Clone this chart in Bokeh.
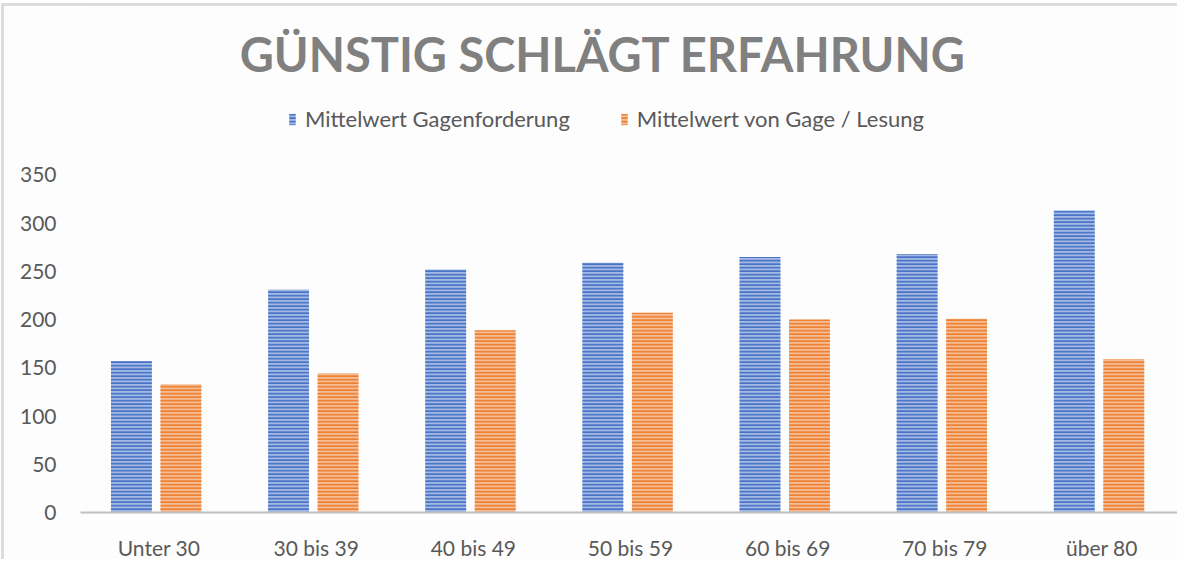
from bokeh.plotting import figure
from bokeh.models import FactorRange, Range1d, FixedTicker, Legend, LegendItem, Label
from bokeh.transform import dodge
from bokeh.models import ColumnDataSource
from bokeh.embed import file_html
from bokeh.resources import INLINE

categories = ["Unter 30", "30 bis 39", "40 bis 49", "50 bis 59", "60 bis 69", "70 bis 79", "über 80"]
gagenforderung = [157, 231, 252, 259, 265, 268, 313]
gage_lesung = [133, 144, 189, 207, 200, 201, 159]
series_names = ["Mittelwert Gagenforderung", "Mittelwert von Gage / Lesung"]
y_ticks = [0, 50, 100, 150, 200, 250, 300, 350]
title_text = "GÜNSTIG SCHLÄGT ERFAHRUNG"

src = ColumnDataSource(dict(cat=categories, a=gagenforderung, b=gage_lesung))

FONT = "Lato"
p = figure(x_range=FactorRange(*categories), y_range=Range1d(0, 524.6),
           width=1176, height=556, output_backend="svg", toolbar_location=None,
           min_border_left=76, min_border_right=0, min_border_top=0, min_border_bottom=45)
p.styles = {"border-left": "3px solid #dcdcdc", "border-top": "3px solid #dcdcdc",
            "margin-left": "1px", "margin-top": "3px"}
p.outline_line_color = None
p.background_fill_color = "#fdfdfd"
p.border_fill_color = "#fdfdfd"
p.xgrid.visible = False
p.ygrid.visible = False

r1 = p.vbar(x=dodge("cat", -0.176, range=p.x_range), top="a", width=0.26, source=src,
            fill_color="#a3b9e4", line_color=None,
            hatch_pattern="horizontal_line", hatch_color="#4772c6", hatch_scale=3.5, hatch_weight=1.8)
r2 = p.vbar(x=dodge("cat", 0.139, range=p.x_range), top="b", width=0.26, source=src,
            fill_color="#f5bd95", line_color=None,
            hatch_pattern="horizontal_line", hatch_color="#ee7f30", hatch_scale=3.5, hatch_weight=1.8)

p.yaxis.ticker = FixedTicker(ticks=y_ticks)
p.yaxis.axis_line_color = None
p.yaxis.major_tick_line_color = None
p.yaxis.minor_tick_line_color = None
p.yaxis.major_label_standoff = 18
p.yaxis.major_label_text_font = FONT
p.yaxis.major_label_text_font_size = "21px"
p.yaxis.major_label_text_color = "#595959"

p.xaxis.axis_line_color = "#bfbfbf"
p.xaxis.axis_line_width = 2
p.xaxis.major_tick_line_color = None
p.xaxis.minor_tick_line_color = None
p.xaxis.major_label_standoff = 16
p.xaxis.major_label_text_font = FONT
p.xaxis.major_label_text_font_size = "21px"
p.xaxis.major_label_text_color = "#595959"

title = Label(x=3.325, y=475, text=title_text, text_align="center", text_baseline="middle",
              text_font=FONT, text_font_style="bold", text_font_size="47px", text_color="#808080")
p.add_layout(title)

legend = Legend(items=[LegendItem(label=series_names[0], renderers=[r1]),
                       LegendItem(label=series_names[1], renderers=[r2])],
                orientation="horizontal", location=(208, 380))
legend.margin = 0
legend.padding = 0
legend.spacing = 50
legend.glyph_width = 8
legend.glyph_height = 14
legend.label_standoff = 9
legend.label_text_font = FONT
legend.label_text_font_size = "22px"
legend.label_text_color = "#595959"
legend.border_line_color = None
legend.background_fill_alpha = 0
p.add_layout(legend)

open("out.html", "w").write(file_html(p, INLINE))
